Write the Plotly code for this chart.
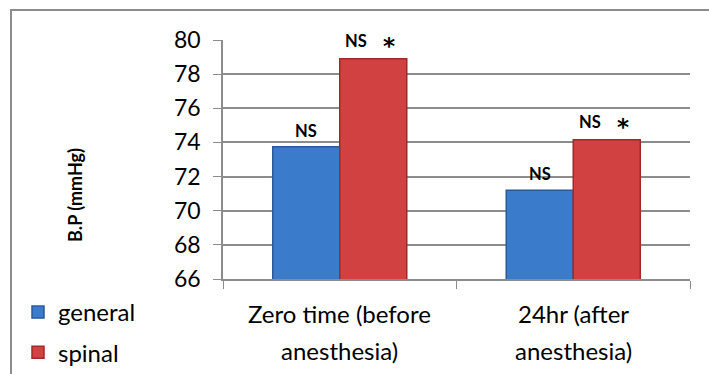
import plotly.graph_objects as go

# Mean blood pressure by anesthesia type at two time points
categories = ["Zero time (before anesthesia)", "24hr (after anesthesia)"]
label_lines = [["Zero time (before", "anesthesia)"], ["24hr (after", "anesthesia)"]]
general = [73.75, 71.2]
spinal = [78.9, 74.15]
general_notes = ["NS", "NS"]
spinal_notes = ["NS", "NS"]
spinal_marks = ["*", "*"]
y_ticks = [66, 68, 70, 72, 74, 76, 78, 80]

FONT = "Lato"
W, H = 709, 374
ML, MR, MT, MB = 223, 19, 40, 95
PW, PH = W - ML - MR, H - MT - MB

fig = go.Figure()
fig.add_trace(go.Bar(
    name="general", x=categories, y=general, legendgroup="g",
    marker=dict(color="#3b7bcc", line=dict(color="#2a5a9a", width=1.5)),
))
fig.add_trace(go.Bar(
    name="spinal", x=categories, y=spinal, legendgroup="s",
    marker=dict(color="#d24142", line=dict(color="#9e2a2a", width=1.5)),
))

# significance notes over each bar
bar_px = PW / len(categories) * (1 - 0.426) / 2
note_font = dict(family=FONT, size=16.5, color="black", weight="bold")
for i, c in enumerate(categories):
    fig.add_annotation(x=c, y=general[i], xref="x", yref="y", text=general_notes[i],
                       showarrow=False, yanchor="middle", yshift=16, xshift=-bar_px / 2,
                       font=note_font)
    fig.add_annotation(x=c, y=spinal[i], xref="x", yref="y", text=spinal_notes[i],
                       showarrow=False, yanchor="middle", yshift=18, xshift=bar_px / 2 - 17,
                       font=note_font)
    fig.add_annotation(x=c, y=spinal[i], xref="x", yref="y", text=spinal_marks[i],
                       showarrow=False, yanchor="middle", yshift=13, xshift=bar_px / 2 + 16,
                       font=dict(family="DejaVu Sans", size=23, color="black", weight="bold"))
    for j, line in enumerate(label_lines[i]):
        fig.add_annotation(x=c, y=0, xref="x", yref="paper", text=line, showarrow=False,
                           yanchor="middle", yshift=-34 - 37 * j,
                           font=dict(family=FONT, size=24, color="black"))

# y-axis title
fig.add_annotation(x=(62 - ML) / PW, y=(MT + PH - 195) / PH, xref="paper", yref="paper",
                   text="B.P (mmHg)", textangle=-90, showarrow=False,
                   font=dict(family=FONT, size=18, color="black", weight="bold"))

# outer chart frame
fig.add_shape(type="rect", xref="paper", yref="paper",
              x0=(11 - ML) / PW, x1=(W + 20 - ML) / PW,
              y0=-(H + 20 - MT - PH) / PH, y1=1 + (MT - 10) / PH,
              line=dict(color="#8c8c8c", width=2), layer="below")

fig.update_layout(
    width=W, height=H, margin=dict(l=ML, r=MR, t=MT, b=MB, autoexpand=False),
    paper_bgcolor="white", plot_bgcolor="white",
    barmode="group", bargap=0.426, bargroupgap=0,
    font=dict(family=FONT, size=23, color="black"),
    legend=dict(x=(18 - ML) / PW, y=(MT + PH - 290) / PH, xanchor="left", yanchor="top",
                font=dict(size=24), tracegroupgap=6, bgcolor="rgba(0,0,0,0)"),
    xaxis=dict(showticklabels=False, ticks="outside", ticklen=8, tickson="boundaries",
               tickcolor="#8c8c8c", showline=True, linecolor="#8c8c8c", linewidth=1.5),
    yaxis=dict(range=[66, 80], tickvals=y_ticks, ticks="outside", ticklen=8,
               tickcolor="#8c8c8c", showgrid=True, gridcolor="#8c8c8c", gridwidth=1.5,
               showline=True, linecolor="#8c8c8c", linewidth=1.5, zeroline=False,
               ticklabelstandoff=8, tickfont=dict(size=23)),
)

fig.write_html("out.html")
